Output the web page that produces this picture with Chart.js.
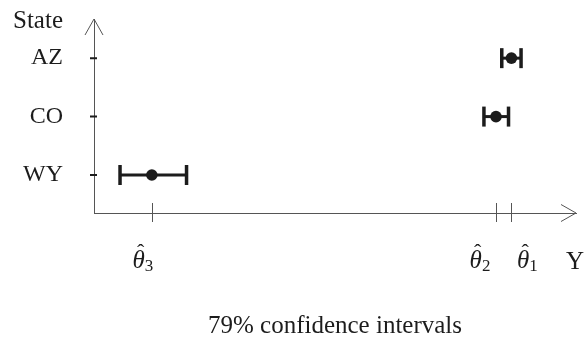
<!DOCTYPE html>
<html lang="en">
<head>
<meta charset="UTF-8">
<title>79% confidence intervals</title>
<script src="https://cdn.jsdelivr.net/npm/chart.js"></script>
<style>
  html, body { margin: 0; padding: 0; background: #fff; }
  #wrap { width: 585px; height: 339px; }
</style>
</head>
<body>
<div id="wrap"><canvas id="ciChart" width="585" height="339"></canvas></div>
<script>
// data (x axis has no numbers, so arbitrary 0..10 units)
const states = ['AZ', 'CO', 'WY'];
const estimates = [8.66, 8.34, 1.20];
const lower = [8.46, 8.09, 0.54];
const upper = [8.86, 8.60, 1.92];
const subscripts = ['1', '2', '3'];
const caption = '79% confidence intervals';

const ink = '#1c1c1c';
const axisGrey = '#555';
const serif = '"Liberation Serif", "Times New Roman", serif';

// AZ on top, WY at the bottom
function rowOf(i) { return states.length - i; }

const datasets = states.map((s, i) => ({
  label: s,
  data: [{ x: lower[i], y: rowOf(i) }, { x: upper[i], y: rowOf(i) }],
  showLine: true,
  borderColor: ink,
  borderWidth: 3,
  pointStyle: 'line',
  rotation: 90,
  pointRadius: 10,
  pointHoverRadius: 10,
  pointBorderWidth: 3.5,
  pointBorderColor: ink,
  order: 1
}));
datasets.push({
  label: 'estimate',
  data: estimates.map((v, i) => ({ x: v, y: rowOf(i) })),
  pointRadius: 5.8,
  pointHoverRadius: 5.8,
  backgroundColor: ink,
  borderColor: ink,
  pointBorderWidth: 0,
  order: 0
});

// arrows, tick marks and the LaTeX-ish labels
const decor = {
  id: 'decor',
  afterDraw(chart) {
    const { ctx, chartArea: a, scales: { x, y } } = chart;
    ctx.save();
    ctx.strokeStyle = axisGrey;
    ctx.lineWidth = 1;
    ctx.beginPath();
    ctx.moveTo(a.left - 9, a.top + 16); ctx.lineTo(a.left, a.top); ctx.lineTo(a.left + 9, a.top + 16);
    ctx.moveTo(a.right - 15, a.bottom - 8.5); ctx.lineTo(a.right, a.bottom); ctx.lineTo(a.right - 15, a.bottom + 8.5);
    ctx.stroke();

    // x ticks at the estimates
    ctx.beginPath();
    estimates.forEach(v => {
      const px = Math.round(x.getPixelForValue(v)) + 0.5;
      ctx.moveTo(px, a.bottom - 10); ctx.lineTo(px, a.bottom + 9);
    });
    ctx.stroke();

    // y ticks
    ctx.strokeStyle = ink;
    ctx.lineWidth = 2;
    ctx.beginPath();
    states.forEach((s, i) => {
      const py = y.getPixelForValue(rowOf(i));
      ctx.moveTo(a.left - 4, py); ctx.lineTo(a.left + 3, py);
    });
    ctx.stroke();

    ctx.fillStyle = ink;
    ctx.textBaseline = 'alphabetic';
    const shift = { '1': 16, '2': -16, '3': -9 };
    estimates.forEach((v, i) => {
      ctx.font = 'italic 25px ' + serif;
      const w1 = ctx.measureText('θ').width;
      ctx.font = '17px ' + serif;
      const w2 = ctx.measureText(subscripts[i]).width;
      const cx = x.getPixelForValue(v) + shift[subscripts[i]];
      const sx = cx - (w1 + w2) / 2;
      ctx.textAlign = 'left';
      ctx.font = 'italic 25px ' + serif;
      ctx.fillText('θ', sx, 268);
      ctx.font = '17px ' + serif;
      ctx.fillText(subscripts[i], sx + w1, 271);
      // the hat over theta
      ctx.textAlign = 'center';
      ctx.font = '22px ' + serif;
      ctx.fillText('\u02C6', sx + w1 / 2 + 2, 259);
    });

    ctx.font = '25px ' + serif;
    ctx.textAlign = 'center';
    ctx.fillText('Y', 575, 269);
    ctx.fillText(caption, (a.left + a.right) / 2, 333);
    ctx.textAlign = 'right';
    ctx.fillText('State', 63, 28);
    ctx.restore();
  }
};

new Chart(document.getElementById('ciChart'), {
  type: 'scatter',
  data: { datasets },
  options: {
    responsive: false,
    animation: false,
    devicePixelRatio: 1,
    layout: { autoPadding: false, padding: { left: 0, right: 9, top: 19, bottom: 126 } },
    plugins: { legend: { display: false }, tooltip: { enabled: false } },
    scales: {
      x: {
        type: 'linear', min: 0, max: 10,
        grid: { display: false, drawTicks: false },
        border: { display: true, color: axisGrey, width: 1 },
        ticks: { display: false },
        afterFit(s) { s.height = 0; s.paddingLeft = 0; s.paddingRight = 0; }
      },
      y: {
        type: 'linear', min: 0.35, max: 3.67,
        grid: { display: false, drawTicks: false },
        border: { display: true, color: axisGrey, width: 1 },
        afterBuildTicks(s) { s.ticks = states.map((_, i) => ({ value: rowOf(i) })).reverse(); },
        ticks: {
          padding: 31,
          color: ink,
          font: { family: serif, size: 24 },
          callback: v => states[states.length - v]
        },
        afterFit(s) { s.width = 94; s.paddingTop = 0; s.paddingBottom = 0; }
      }
    }
  },
  plugins: [decor]
});
</script>
</body>
</html>
